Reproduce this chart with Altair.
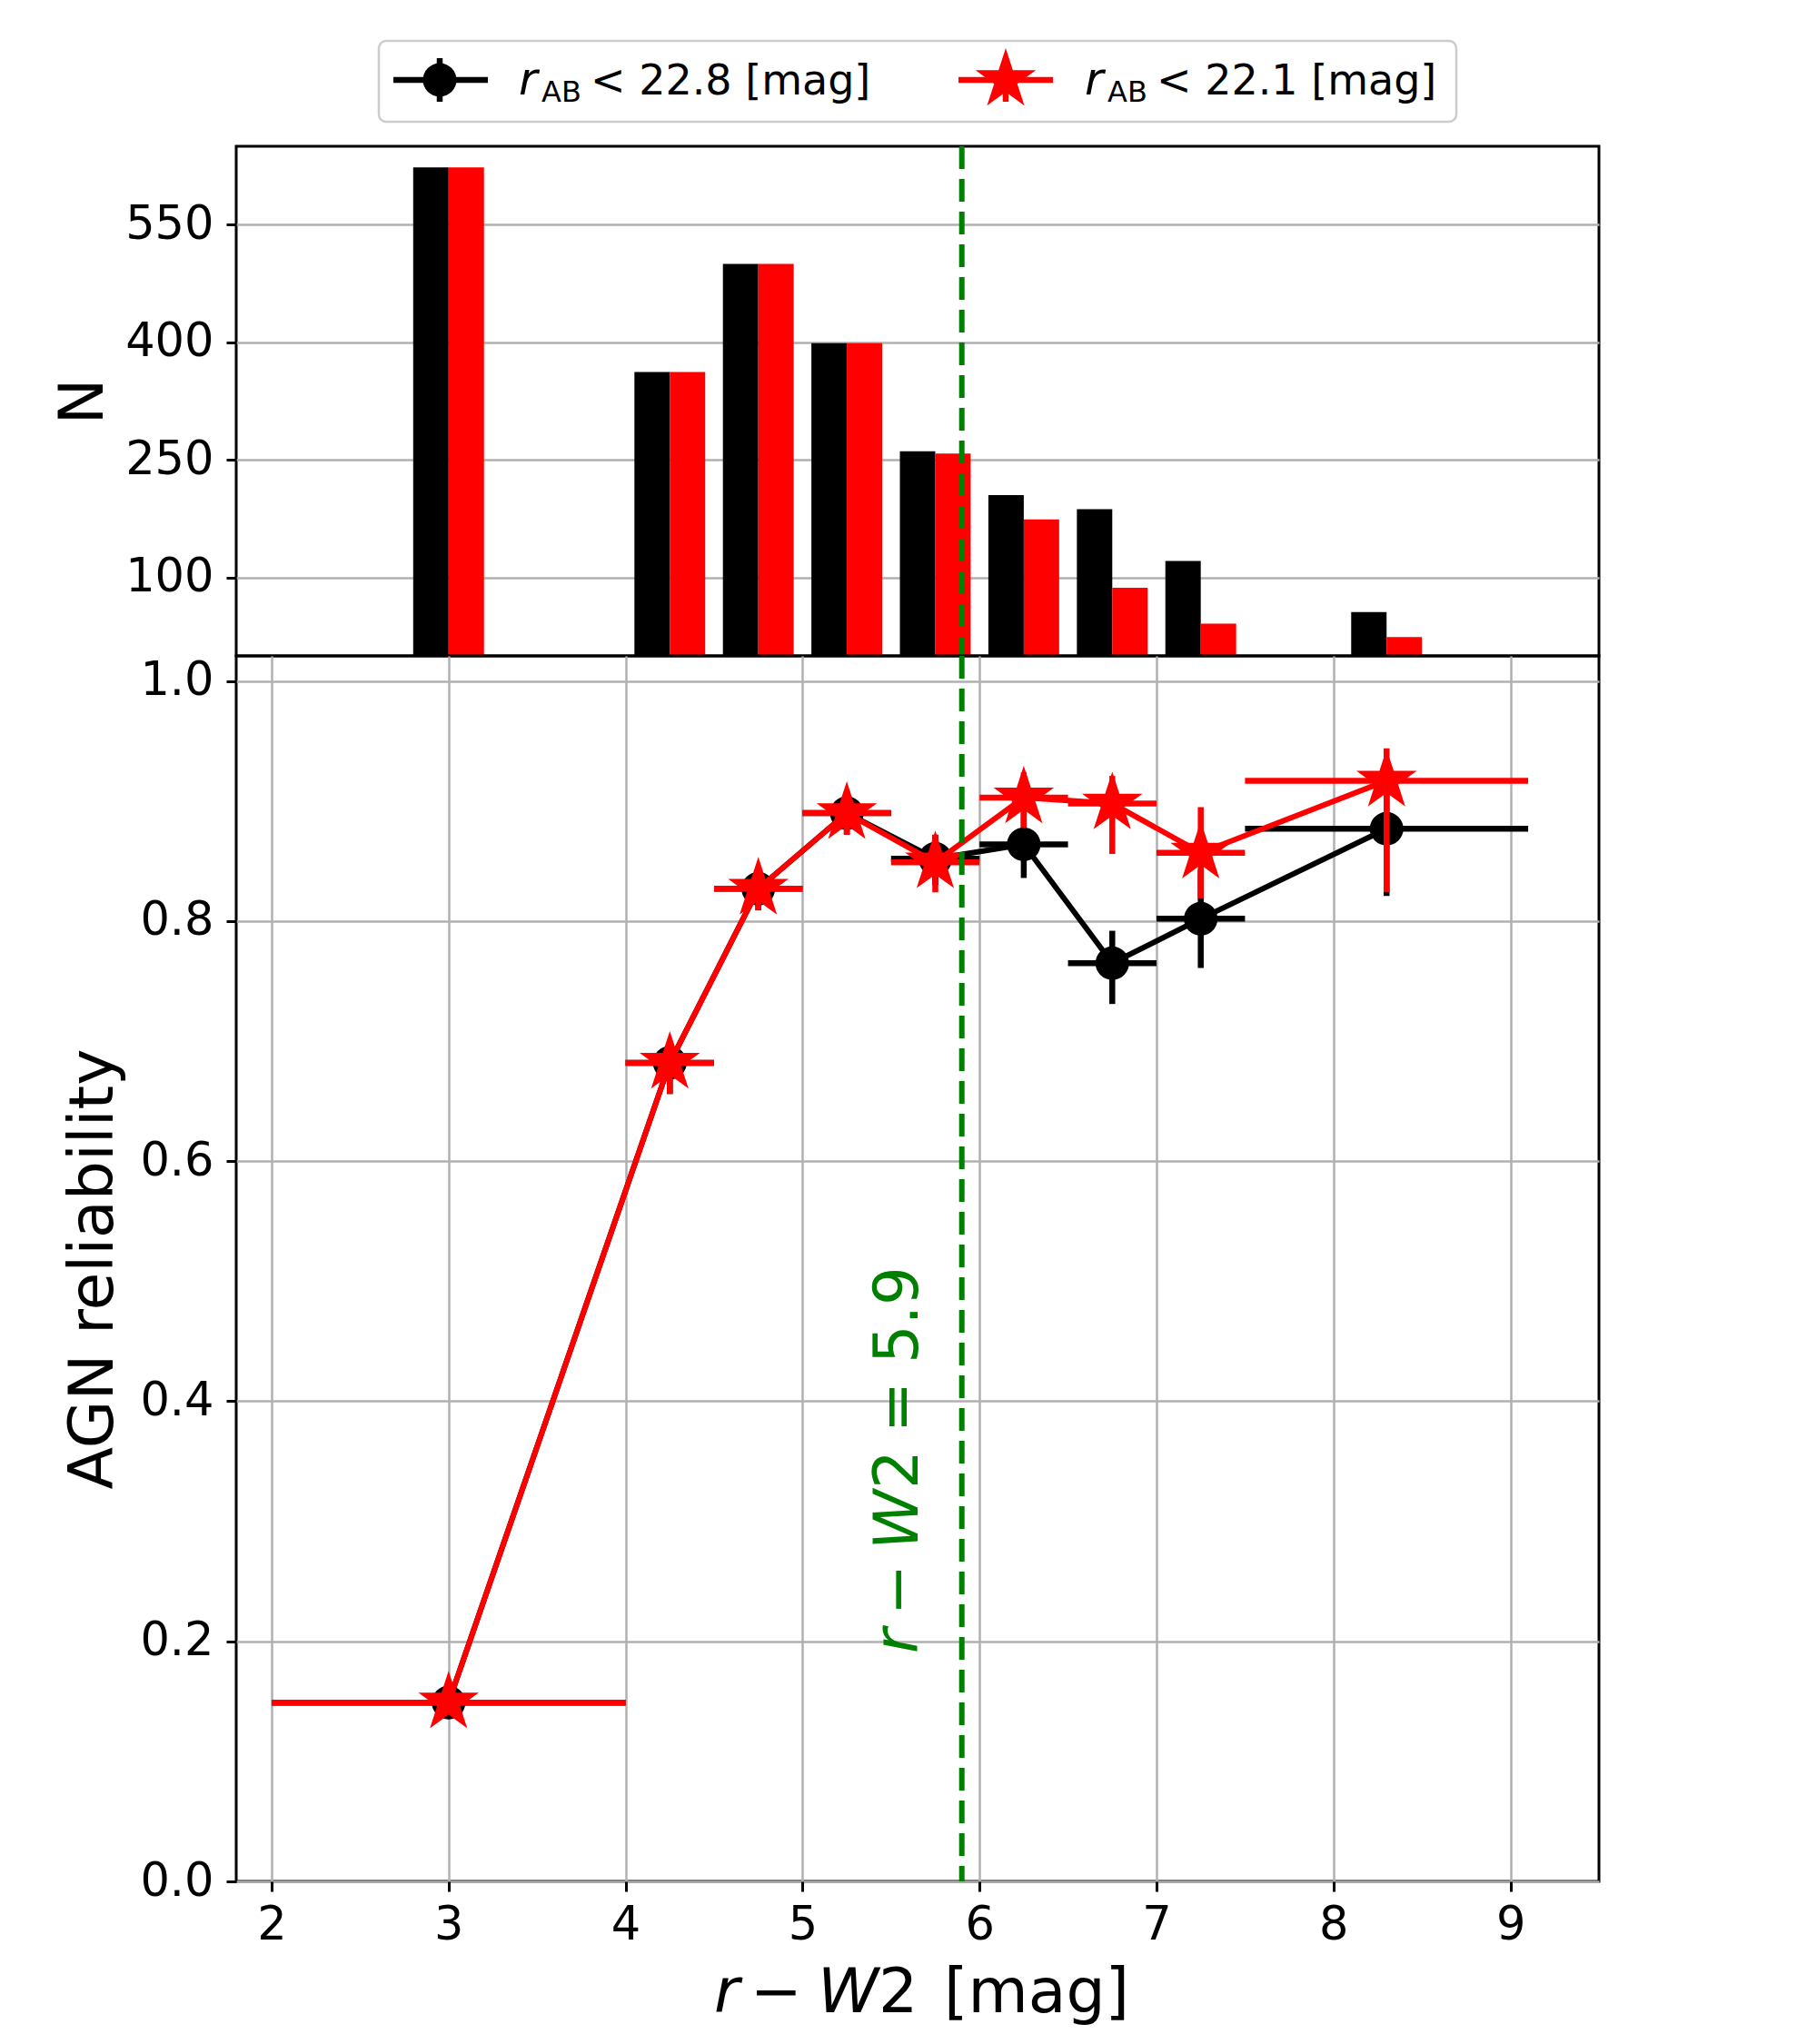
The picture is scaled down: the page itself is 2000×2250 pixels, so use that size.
import altair as alt
import pandas as pd

FONT = "DejaVu Sans"

# ---------------- data ----------------
bin_center = [3.0, 4.25, 4.75, 5.25, 5.75, 6.25, 6.75, 7.25, 8.3]
bin_lo = [2.0, 4.0, 4.5, 5.0, 5.5, 6.0, 6.5, 7.0, 7.5]
bin_hi = [4.0, 4.5, 5.0, 5.5, 6.0, 6.5, 7.0, 7.5, 9.1]

# histogram counts
n_228 = [623, 362, 500, 399, 261, 205, 187, 121, 56]
n_221 = [623, 362, 500, 399, 258, 174, 87, 41, 24]

# AGN reliability with asymmetric error bounds
rel_228 = [0.149, 0.682, 0.827, 0.890, 0.852, 0.864, 0.765, 0.802, 0.877]
rel_228_lo = [0.144, 0.656, 0.809, 0.872, 0.830, 0.836, 0.731, 0.761, 0.821]
rel_228_hi = [0.154, 0.700, 0.845, 0.908, 0.872, 0.892, 0.792, 0.843, 0.933]

rel_221 = [0.149, 0.682, 0.827, 0.890, 0.849, 0.903, 0.898, 0.857, 0.917]
rel_221_lo = [0.144, 0.656, 0.809, 0.872, 0.824, 0.878, 0.856, 0.819, 0.824]
rel_221_hi = [0.154, 0.700, 0.845, 0.908, 0.872, 0.924, 0.921, 0.895, 0.944]

x_cut = [5.9]

series_names = ["r<22.8", "r<22.1"]
series_colors = ["black", "red"]

# ---------------- tables ----------------
BAR_W = 0.2
bar_rows = []
for c, n1, n2 in zip(bin_center, n_228, n_221):
    bar_rows.append({"series": series_names[0], "x0": c - BAR_W, "x1": c, "N": n1})
    bar_rows.append({"series": series_names[1], "x0": c, "x1": c + BAR_W, "N": n2})
bar_df = pd.DataFrame(bar_rows)

def rel_table(vals, lo, hi):
    return pd.DataFrame({
        "center": bin_center, "lo": bin_lo, "hi": bin_hi,
        "rel": vals, "rlo": lo, "rhi": hi,
    })

rel_black = rel_table(rel_228, rel_228_lo, rel_228_hi)
rel_red = rel_table(rel_221, rel_221_lo, rel_221_hi)
cut_df = pd.DataFrame({"x": x_cut})
one = pd.DataFrame({"a": [0]})

STAR = ("M0,-1L0.2245,-0.309L0.9511,-0.309L0.3633,0.118L0.5878,0.809L0,0.382"
        "L-0.5878,0.809L-0.3633,0.118L-0.9511,-0.309L-0.2245,-0.309Z")

W = 1500
H_TOP = 561
H_BOT = 1349
LW = 6.5
GREEN_W = 6

xs = alt.Scale(domain=[1.8, 9.5], nice=False, zero=False)
ys_top = alt.Scale(domain=[0, 650], nice=False)
ys_bot = alt.Scale(domain=[0, 1.021], nice=False)

# ---------------- top panel: histogram ----------------
top_y_axis = alt.Axis(values=[100, 250, 400, 550], title="N", grid=True,
                      labelPadding=14, titlePadding=11)

bars = alt.Chart(bar_df).mark_bar(strokeWidth=0).encode(
    x=alt.X("x0:Q", scale=xs, axis=None),
    x2="x1:Q",
    y=alt.Y("N:Q", scale=ys_top, axis=top_y_axis),
    y2=alt.datum(0),
    color=alt.Color("series:N", scale=alt.Scale(domain=series_names, range=series_colors), legend=None),
)
cut_top = alt.Chart(cut_df).mark_rule(color="green", strokeWidth=GREEN_W, strokeDash=[25, 11]).encode(
    x=alt.X("x:Q", scale=xs, axis=None)
)

# manual legend (above top panel)
LEG_Y = -73
leg_box = alt.Chart(one).mark_rect(fill="white", stroke="#cccccc", strokeWidth=2.5, cornerRadius=8).encode(
    x=alt.value(157), x2=alt.value(1343), y=alt.value(-116), y2=alt.value(-27)
)
leg_layers = [leg_box]
for color, x_line0, x_line1, x_sym, x_txt, label, shape, size in [
    ("black", 173, 277, 224, 311, "< 22.8 [mag]", "circle", 1370),
    ("red", 795, 899, 847, 934, "< 22.1 [mag]", STAR, 4900),
]:
    leg_layers.append(alt.Chart(one).mark_rule(color=color, strokeWidth=LW).encode(
        x=alt.value(x_line0), x2=alt.value(x_line1), y=alt.value(LEG_Y)))
    leg_layers.append(alt.Chart(one).mark_rule(color=color, strokeWidth=LW).encode(
        x=alt.value(x_sym), y=alt.value(LEG_Y - 24), y2=alt.value(LEG_Y + 24)))
    leg_layers.append(alt.Chart(one).mark_point(shape=shape, size=size, filled=True, opacity=1,
                                                color=color, strokeWidth=0).encode(
        x=alt.value(x_sym), y=alt.value(LEG_Y)))
    leg_layers.append(alt.Chart(one).mark_text(text="r", font=FONT, fontSize=50, fontStyle="italic",
                                               align="left", baseline="alphabetic", color="black").encode(
        x=alt.value(x_txt), y=alt.value(-57)))
    leg_layers.append(alt.Chart(one).mark_text(text="AB", font=FONT, fontSize=32,
                                               align="left", baseline="alphabetic", color="black").encode(
        x=alt.value(x_txt + 25), y=alt.value(-49)))
    leg_layers.append(alt.Chart(one).mark_text(text=label, font=FONT, fontSize=46,
                                               align="left", baseline="alphabetic", color="black").encode(
        x=alt.value(x_txt + 79), y=alt.value(-57)))

top = alt.layer(bars, cut_top, *leg_layers).properties(width=W, height=H_TOP)

# ---------------- bottom panel: reliability ----------------
x_axis = alt.Axis(title=None, values=list(range(2, 10)), format="d", grid=True, labelPadding=12)
y_axis = alt.Axis(title="AGN reliability", values=[0, 0.2, 0.4, 0.6, 0.8, 1.0], format=".1f",
                  grid=True, labelPadding=14, titlePadding=16)

def X(f):
    return alt.X(f, type="quantitative", scale=xs, axis=x_axis)

def Y(f):
    return alt.Y(f, type="quantitative", scale=ys_bot, axis=y_axis)

def series_layers(df, color, shape, size):
    c = alt.Chart(df)
    hbar = c.mark_rule(color=color, strokeWidth=LW).encode(x=X("lo"), x2="hi", y=Y("rel"))
    vbar = c.mark_rule(color=color, strokeWidth=LW).encode(x=X("center"), y=Y("rlo"), y2="rhi")
    line = c.mark_line(color=color, strokeWidth=6).encode(x=X("center"), y=Y("rel"), order="center:Q")
    pts = c.mark_point(shape=shape, size=size, filled=True, opacity=1, color=color, strokeWidth=0).encode(
        x=X("center"), y=Y("rel"))
    return [hbar, vbar, line, pts]

cut_bot = alt.Chart(cut_df).mark_rule(color="green", strokeWidth=GREEN_W, strokeDash=[25, 11]).encode(x=X("x"))

# rotated annotation r - W2 = 5.9
ANN = pd.DataFrame({"x": [5.65], "y": [0.19]})
ann_layers = []
for txt, dx, style in [("r", 0, "italic"), ("\u2212", 42, "normal"), ("W", 114, "italic"),
                       ("2", 181, "normal"), ("=", 243, "normal"), ("5.9", 319, "normal")]:
    ann_layers.append(alt.Chart(ANN).mark_text(text=txt, dx=dx, angle=270, font=FONT, fontSize=67,
                                               fontStyle=style, color="green", align="left",
                                               baseline="alphabetic").encode(x=X("x"), y=Y("y")))

# x axis title pieces
XT_Y = H_BOT + 144
xt_layers = []
for txt, xpos, style in [("r", 526, "italic"), ("\u2212", 566, "normal"), ("W", 640, "italic"),
                         ("2", 707, "normal"), ("[mag]", 779, "normal")]:
    xt_layers.append(alt.Chart(one).mark_text(text=txt, font=FONT, fontSize=68, fontStyle=style,
                                              color="black", align="left", baseline="alphabetic").encode(
        x=alt.value(xpos), y=alt.value(XT_Y)))

bottom = alt.layer(
    *series_layers(rel_black, "black", "circle", 1370),
    *series_layers(rel_red, "red", STAR, 4900),
    cut_bot, *ann_layers, *xt_layers,
).properties(width=W, height=H_BOT)

chart = alt.vconcat(top, bottom, spacing=0, bounds="flush").properties(
    padding={"left": 49, "top": 34, "right": 20, "bottom": 10}
).configure_view(
    stroke="black", strokeWidth=3
).configure_axis(
    domain=False, gridColor="#b0b0b0", gridWidth=2.5, gridOpacity=1,
    tickColor="black", tickWidth=3, tickSize=11,
    labelFont=FONT, labelFontSize=51, labelColor="black",
    titleFont=FONT, titleFontSize=68, titleFontWeight="normal", titleColor="black",
)

chart.save("out.html", embed_options={"renderer": "svg", "actions": False})
